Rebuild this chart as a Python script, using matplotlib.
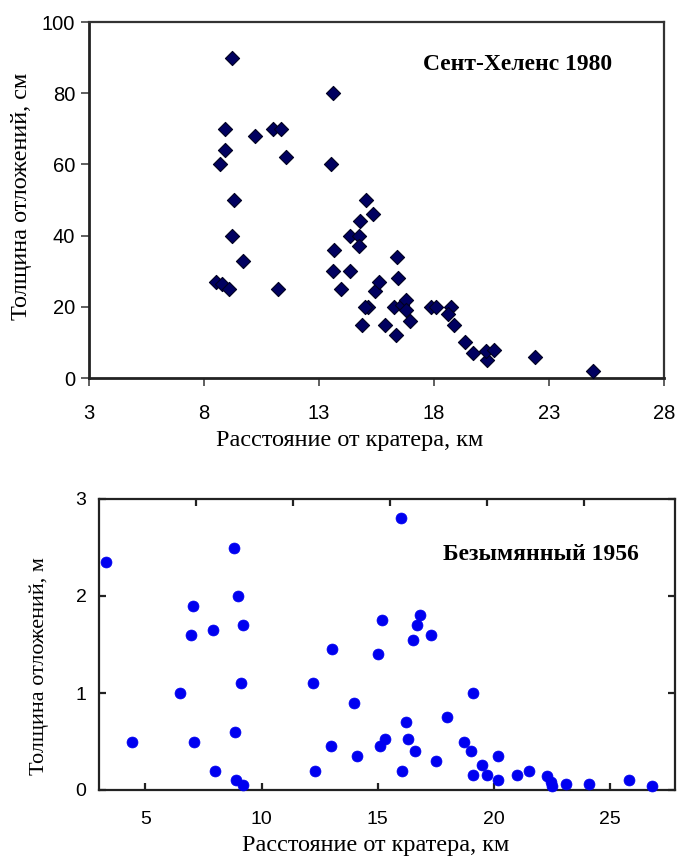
import matplotlib
matplotlib.use("Agg")
import matplotlib.pyplot as plt

# ---- Data: Mount St. Helens 1980 (cm) ----
sh_x = [9.2, 13.6, 8.9, 10.2, 11.0, 11.35, 8.9, 8.7, 11.55, 13.5, 9.3, 15.05, 15.35,
        9.2, 9.7, 8.5, 8.8, 9.1, 11.2, 13.65, 13.6, 14.35, 13.95, 14.35, 14.75, 14.75,
        14.8, 15.15, 15.0, 14.85, 15.45, 15.6, 15.85, 16.4, 16.45, 16.35, 16.25, 16.6,
        16.8, 16.8, 16.95, 17.85, 18.1, 18.75, 18.6, 18.85, 19.35, 19.7, 20.3, 20.25,
        20.6, 22.4, 24.9]
sh_y = [90, 80, 70, 68, 70, 70, 64, 60, 62, 60, 50, 50, 46,
        40, 33, 27, 26.5, 25, 25, 36, 30, 30, 25, 40, 40, 37,
        44, 20, 20, 15, 24.5, 27, 15, 34, 28, 12, 20, 20.5,
        22, 19, 16, 20, 20, 20, 18, 15, 10, 7, 5, 7.5,
        8, 6, 2]

# ---- Data: Bezymianny 1956 (m) ----
bz_x = [3.3, 8.8, 9.0, 7.05, 6.95, 7.9, 9.2, 13.05, 6.5, 9.1, 12.2, 4.4, 7.1, 8.85,
        8.0, 8.9, 9.2, 12.3, 13.0, 16.0, 15.2, 15.0, 16.8, 16.7, 16.5, 17.3, 19.1,
        14.0, 18.0, 16.2, 14.1, 15.1, 15.3, 16.3, 16.6, 16.05, 17.5, 18.7, 19.0,
        19.5, 20.2, 19.1, 19.7, 20.2, 21.0, 21.5, 22.3, 22.45, 22.5, 23.1, 24.1,
        25.8, 26.8]
bz_y = [2.35, 2.5, 2.0, 1.9, 1.6, 1.65, 1.7, 1.45, 1.0, 1.1, 1.1, 0.5, 0.5, 0.6,
        0.2, 0.1, 0.05, 0.2, 0.45, 2.8, 1.75, 1.4, 1.8, 1.7, 1.55, 1.6, 1.0,
        0.9, 0.75, 0.7, 0.35, 0.45, 0.53, 0.53, 0.4, 0.2, 0.3, 0.5, 0.4,
        0.26, 0.35, 0.15, 0.15, 0.1, 0.15, 0.2, 0.14, 0.08, 0.04, 0.06, 0.06,
        0.1, 0.045]

top_xticks = [3, 8, 13, 18, 23, 28]
top_yticks = [0, 20, 40, 60, 80, 100]
bot_xticks = [5, 10, 15, 20, 25]
bot_yticks = [0, 1, 2, 3]

SANS = "Liberation Sans"
SERIF = "Liberation Serif"

W, H = 678, 859
fig = plt.figure(figsize=(W / 100, H / 100), dpi=100)


def px_axes(l, t, r, b):
    return fig.add_axes([l / W, 1 - b / H, (r - l) / W, (b - t) / H])


def ftext(x, y, s, **kw):
    return fig.text(x / W, 1 - y / H, s, **kw)


# ---------------- Top chart ----------------
ax1 = px_axes(89, 22, 664, 378)
ax1.scatter(sh_x, sh_y, marker="D", s=52, facecolor="#000060",
            edgecolor="#000020", linewidth=0.8, zorder=3, clip_on=False)
ax1.set_xlim(3, 28)
ax1.set_ylim(0, 100)
ax1.set_xticks(top_xticks)
ax1.set_yticks(top_yticks)
for sp in ["left", "bottom"]:
    ax1.spines[sp].set_linewidth(2.0)
    ax1.spines[sp].set_color("#222222")
for sp in ["top", "right"]:
    ax1.spines[sp].set_linewidth(1.6)
    ax1.spines[sp].set_color("#333333")
ax1.tick_params(direction="out", length=6, width=1.2, color="#444444",
                labelsize=14.5)
ax1.tick_params(axis="x", pad=13)
ax1.tick_params(axis="y", pad=4)
for lab in ax1.get_xticklabels() + ax1.get_yticklabels():
    lab.set_fontfamily(SANS)
ftext(423, 65, "Сент-Хеленс 1980", fontsize=17, fontweight="bold",
      family=SERIF, va="center", ha="left")
ftext(350, 440, "Расстояние от кратера, км", family=SERIF,
      fontsize=17.5, ha="center", va="center")
ftext(22, 196, "Толщина отложений, см", family=SERIF,
      fontsize=17.5, ha="center", va="center", rotation=90)

# ---------------- Bottom chart ----------------
ax2 = px_axes(99, 499, 675, 790)
ax2.scatter(bz_x, bz_y, marker="o", s=62, facecolor="#0000F0",
            edgecolor="#0000F0", linewidth=0.5, zorder=3, clip_on=False)
ax2.set_xlim(3, 27.8)
ax2.set_ylim(0, 3)
ax2.set_xticks(bot_xticks)
ax2.set_yticks(bot_yticks)
for sp in ax2.spines.values():
    sp.set_linewidth(1.6)
    sp.set_color("#222222")
ax2.tick_params(direction="in", length=5, width=1.6, color="#222222",
                labelsize=14, right=True)
ax2.tick_params(axis="x", pad=15)
ax2.tick_params(axis="y", pad=9)
for lab in ax2.get_xticklabels() + ax2.get_yticklabels():
    lab.set_fontfamily(SANS)
ax2t = ax2.twiny()
ax2t.set_xlim(0, 576 / 97)
ax2t.set_xticks([1, 2, 3, 4, 5])
ax2t.tick_params(direction="in", length=5, width=1.6, color="#222222",
                 labeltop=False)
for sp in ax2t.spines.values():
    sp.set_visible(False)
ftext(443, 555, "Безымянный 1956", fontsize=17, fontweight="bold",
      family=SERIF, va="center", ha="left")
ftext(376, 845, "Расстояние от кратера, км", family=SERIF,
      fontsize=17.5, ha="center", va="center")
ftext(39, 666, "Толщина отложений, м", family=SERIF,
      fontsize=16, ha="center", va="center", rotation=90)

fig.savefig("out.png", dpi=100)
